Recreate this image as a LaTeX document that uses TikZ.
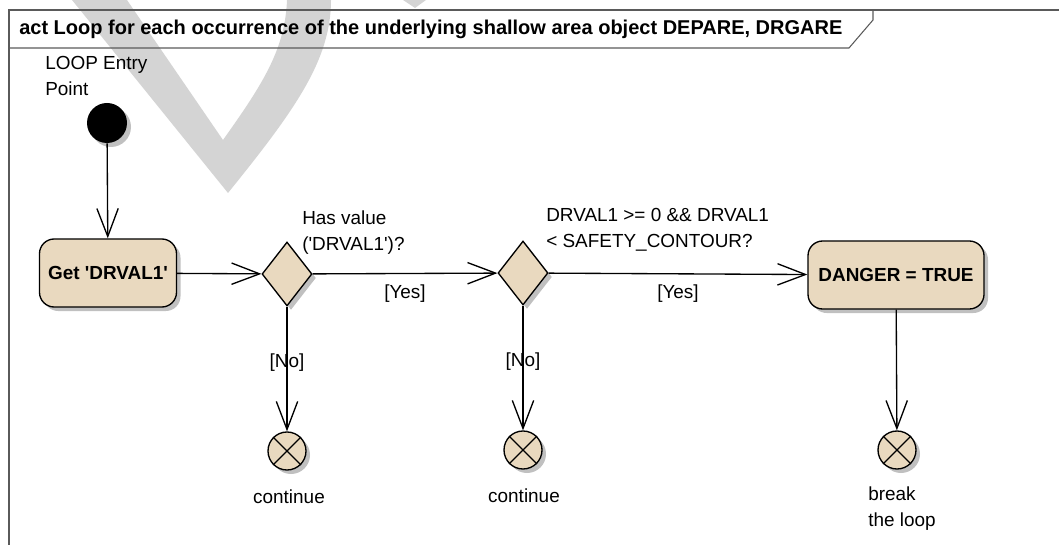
\documentclass[tikz,border=0pt]{standalone}
\usepackage{fontspec}
\setmainfont{Liberation Sans}
\usetikzlibrary{arrows.meta,shapes.geometric,shadows}
\definecolor{beige}{RGB}{233,217,191}
\definecolor{shadowgray}{RGB}{192,192,192}
\definecolor{wmgray}{RGB}{212,212,212}
\definecolor{framegray}{RGB}{90,90,90}
\newcommand{\sq}{\textquotesingle}
\begin{document}
\begin{tikzpicture}[x=0.75pt,y=-0.75pt,
  every node/.style={font=\fontsize{14.2}{19.5}\selectfont, inner sep=0pt},
  shad/.style={drop shadow={shadow xshift=3pt,shadow yshift=-3pt,fill=shadowgray,opacity=1}},
  action/.style={draw, line width=1pt, fill=beige, rounded corners=11pt, shad,
     minimum height=51pt, font=\fontsize{14.2}{19.5}\selectfont\bfseries},
  decision/.style={draw, line width=1pt, fill=beige, diamond, shad,
     minimum width=37.5pt, minimum height=48pt, inner sep=0pt},
  flowfinal/.style={draw, line width=1pt, fill=beige, circle, shad, minimum size=28.5pt},
  initnode/.style={fill=black, circle, shad, minimum size=30pt},
  flow/.style={line width=1pt, -{Straight Barb[length=21pt,width=16pt,line width=1pt]}},
  lbl/.style={align=left},
]
\useasboundingbox (0,0) rectangle (1059,545);
% watermark
\fill[wmgray] (72,0) -- (228,193) .. controls (295,110) and (331,60) .. (331,0)
   -- (287,0) .. controls (285,50) and (262,85) .. (223,140) -- (127,0) -- cycle;
\fill[wmgray] (403,0) -- (426,0) -- (415,8) -- cycle;
% frame
\draw[framegray, line width=0.8pt] (9,545) -- (9,10) -- (1059,10);
\draw[framegray, line width=0.8pt] (9,48) -- (849,48) -- (873,20) -- (873,10);
\node[anchor=west, font=\fontsize{15}{17}\selectfont\bfseries] (title) at (19,29)
  {act Loop for each occurrence of the underlying shallow area object DEPARE, DRGARE};
% nodes
\node[lbl, anchor=west] (entrylbl) at (45,75.5) {LOOP Entry\\Point};
\node[initnode] (init) at (107,123) {};
\node[action, minimum width=102.75pt] (get) at (108,273) {Get \sq DRVAL1\sq};
\node[decision] (d1) at (287,274) {};
\node[lbl, anchor=west] (d1lbl) at (302,233) {Has value\\(\sq DRVAL1\sq)?};
\node[decision] (d2) at (523,273) {};
\node[lbl, anchor=west] (d2lbl) at (546,230) {DRVAL1 >= 0 \&\& DRVAL1\\< SAFETY\_CONTOUR?};
\node[action, minimum width=132pt] (danger) at (896,275) {DANGER = TRUE};
\node[flowfinal] (f1) at (287,451) {};
\node[flowfinal] (f2) at (523,450) {};
\node[flowfinal] (f3) at (897,450) {};
\foreach \f in {f1,f2,f3}{
  \draw[line width=1pt] (\f.45) -- (\f.225) (\f.135) -- (\f.315);
}
\node (c1) at (289,497) {continue};
\node (c2) at (524,496) {continue};
\node[lbl, anchor=west] (brk) at (868,509) {break\\the loop};
% edges
\draw[flow] (init) -- (get);
\draw[flow] (get) -- (d1);
\draw[flow] (d1) -- node[midway, below=8pt] {[Yes]} (d2);
\draw[flow] (d2) -- node[midway, below=8pt] {[Yes]} (danger);
\draw[flow] (d1) -- node[pos=0.45] {[No]} (f1);
\draw[flow] (d2) -- node[pos=0.45] {[No]} (f2);
\draw[flow] (danger) -- (f3);
\end{tikzpicture}
\end{document}
